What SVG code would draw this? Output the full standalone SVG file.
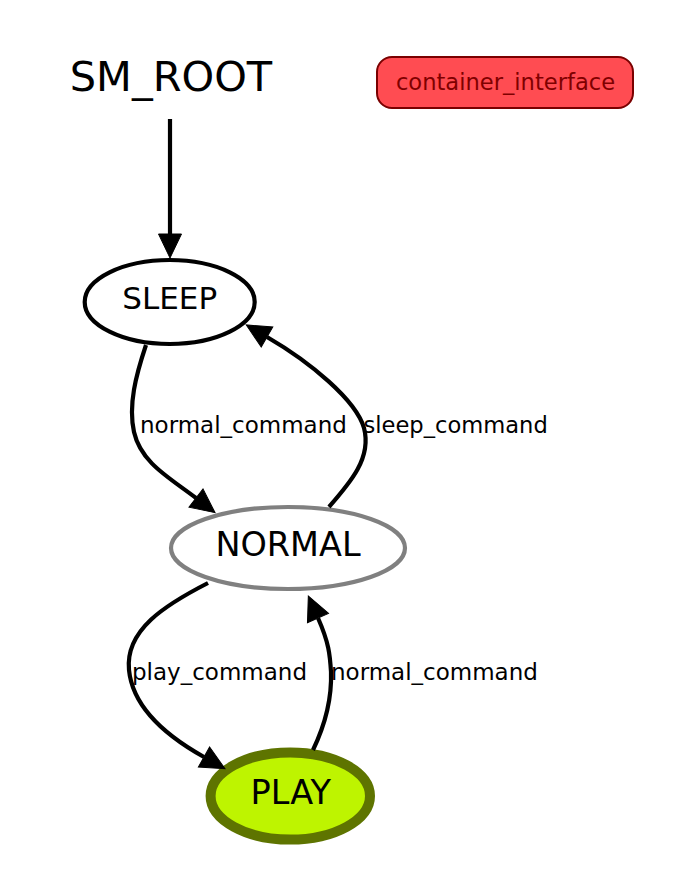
<svg xmlns="http://www.w3.org/2000/svg" width="677" height="876" viewBox="0 0 677 876">
<style>
  text { font-family: "DejaVu Sans", "Liberation Sans", sans-serif; text-anchor: middle; fill: #000; }
  .label { font-size: 23px; text-anchor: start; }
  .edge { fill: none; stroke: #000; stroke-width: 4.2; marker-end: url(#arrow); }
  .state { font-size: 33.5px; }
</style>
<defs>
  <marker id="arrow" markerUnits="userSpaceOnUse" markerWidth="30" markerHeight="30" refX="0" refY="0" orient="auto" overflow="visible">
    <path d="M0,-11.5 L24,0 L0,11.5 Z" fill="#000" stroke="#000" stroke-width="1"/>
  </marker>
</defs>
<rect width="677" height="876" fill="#fff"/>
<g id="SM_ROOT">
  <text x="171" y="90.5" style="font-size:41.5px">SM_ROOT</text>
</g>
<g id="container_interface">
  <rect x="377" y="57" width="256" height="51" rx="15" ry="15" fill="#ff4c52" stroke="#7a0000" stroke-width="2"/>
  <text x="505.5" y="90" style="font-size:22.6px;fill:#7f0000">container_interface</text>
</g>
<g id="SLEEP">
  <ellipse cx="169.7" cy="302" rx="85" ry="42" fill="#fff" stroke="#000" stroke-width="4.2"/>
  <text class="state" x="169.7" y="308.5" style="font-size:31px">SLEEP</text>
</g>
<g id="NORMAL">
  <ellipse cx="288" cy="548" rx="117" ry="41" fill="#fff" stroke="#808080" stroke-width="4.2"/>
  <text class="state" x="288" y="556">NORMAL</text>
</g>
<g id="PLAY">
  <ellipse cx="290.3" cy="796" rx="79.7" ry="43.6" fill="#bef400" stroke="#5e7400" stroke-width="10"/>
  <text class="state" x="290.8" y="804">PLAY</text>
</g>
<g id="connectors">
  <path class="edge" d="M170,119 L170,234"/>
  <path class="edge" d="M146,345 C136,375 128,405 134,432 C141,463 170,478 196,498"/>
  <path class="edge" d="M329,507 C350,483 372,458 364,428 C356,400 310,362 267,337"/>
  <path class="edge" d="M208,583 C165,605 125,630 129,670 C133,710 170,738 204,757"/>
  <path class="edge" d="M313,750 C325,725 332,700 331,672 C330,655 329,643 318,618"/>
  <text class="label" x="140" y="432.5">normal_command</text>
  <text class="label" x="363.5" y="432.5" style="font-size:22.6px">sleep_command</text>
  <text class="label" x="132" y="680">play_command</text>
  <text class="label" x="331" y="680">normal_command</text>
</g>
</svg>
